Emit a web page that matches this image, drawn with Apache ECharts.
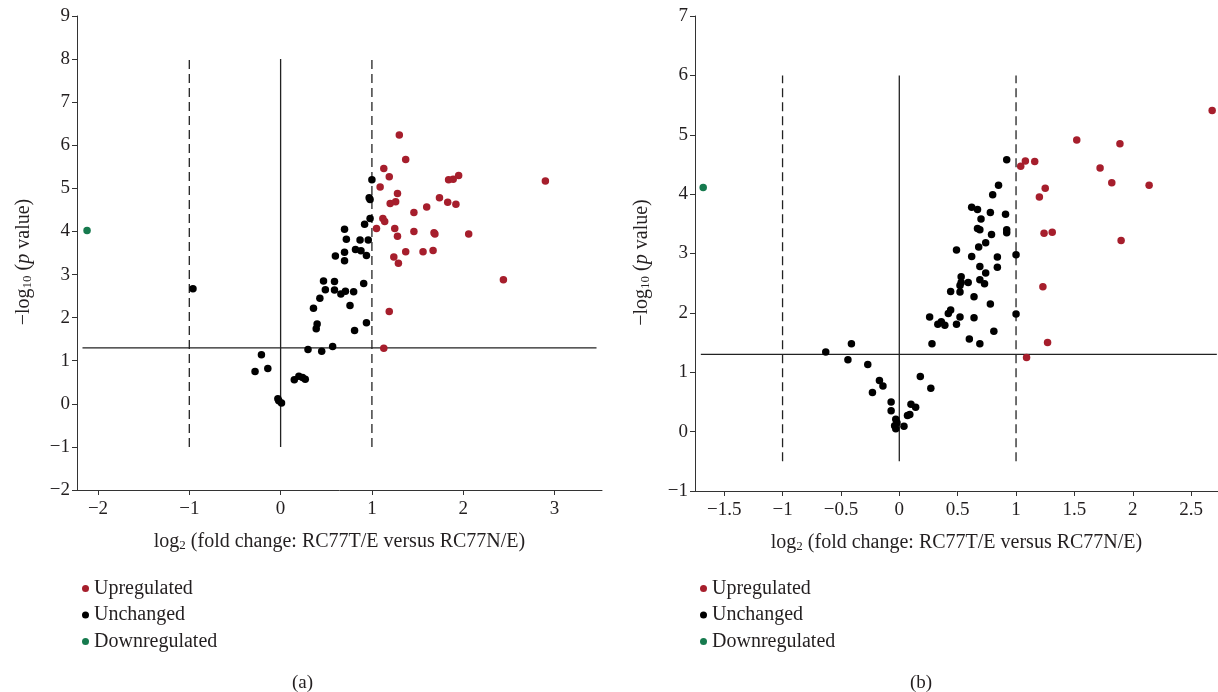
<!DOCTYPE html>
<html>
<head>
<meta charset="utf-8">
<script src="https://cdn.jsdelivr.net/npm/echarts@6/dist/echarts.min.js"></script>
<style>html,body{margin:0;padding:0;background:#fff}#c{width:1218px;height:692px}</style>
</head>
<body>
<div id="c"></div>
<script>
// ---------- Data ----------
const legendNames = ['Upregulated', 'Unchanged', 'Downregulated'];

const upA = [[1.30,6.24],[1.37,5.67],[1.13,5.46],[1.19,5.27],[1.09,5.03],[1.28,4.88],[1.20,4.65],[1.26,4.69],[1.12,4.30],[1.14,4.23],[1.05,4.07],[1.25,4.07],[1.28,3.89],[1.46,4.00],[1.68,3.97],[1.69,3.94],[2.06,3.94],[1.46,4.44],[1.60,4.57],[1.74,4.78],[1.83,4.68],[1.92,4.63],[1.84,5.20],[1.89,5.21],[1.95,5.30],[2.90,5.17],[1.24,3.41],[1.29,3.26],[1.37,3.53],[1.56,3.53],[1.67,3.56],[2.44,2.88],[1.19,2.14],[1.13,1.29]];
const unchA = [[1.00,5.20],[0.97,4.78],[0.98,4.74],[0.98,4.30],[0.92,4.17],[0.70,4.05],[0.72,3.82],[0.87,3.80],[0.96,3.80],[0.82,3.58],[0.88,3.55],[0.94,3.44],[0.70,3.52],[0.60,3.43],[0.70,3.32],[0.47,2.85],[0.59,2.84],[0.91,2.79],[0.49,2.65],[0.59,2.64],[0.66,2.55],[0.71,2.61],[0.80,2.60],[0.43,2.45],[0.76,2.28],[0.36,2.22],[0.40,1.85],[0.39,1.74],[0.81,1.70],[0.94,1.88],[0.30,1.26],[0.45,1.22],[0.57,1.33],[-0.21,1.14],[-0.28,0.75],[-0.14,0.82],[0.15,0.56],[0.20,0.64],[0.24,0.61],[0.27,0.57],[-0.03,0.12],[-0.02,0.07],[0.01,0.02],[-0.96,2.67]];
const downA = [[-2.12,4.02]];

const upB = [[1.04,4.47],[1.08,4.56],[1.16,4.55],[1.52,4.91],[1.89,4.85],[1.72,4.44],[1.82,4.19],[2.14,4.15],[1.25,4.10],[1.20,3.95],[1.24,3.34],[1.31,3.36],[1.90,3.22],[1.23,2.44],[1.27,1.50],[1.09,1.25],[2.68,5.41]];
const unchB = [[0.92,4.58],[0.85,4.15],[0.80,3.99],[0.62,3.78],[0.67,3.74],[0.78,3.69],[0.91,3.66],[0.70,3.58],[0.67,3.42],[0.69,3.40],[0.92,3.40],[0.92,3.35],[0.79,3.32],[0.74,3.18],[0.68,3.11],[0.49,3.06],[0.62,2.95],[0.84,2.94],[1.00,2.98],[0.69,2.78],[0.84,2.77],[0.74,2.67],[0.53,2.61],[0.53,2.51],[0.59,2.51],[0.69,2.56],[0.73,2.49],[0.52,2.46],[0.44,2.36],[0.52,2.35],[0.64,2.27],[0.78,2.15],[1.00,1.98],[0.44,2.05],[0.42,1.99],[0.26,1.93],[0.52,1.93],[0.64,1.92],[0.36,1.85],[0.33,1.81],[0.39,1.79],[0.49,1.81],[0.81,1.69],[0.60,1.56],[0.28,1.48],[0.69,1.48],[-0.41,1.48],[-0.63,1.34],[-0.44,1.21],[-0.27,1.13],[-0.17,0.86],[-0.14,0.77],[-0.23,0.66],[-0.07,0.50],[-0.07,0.35],[-0.03,0.21],[-0.04,0.10],[-0.03,0.05],[0.04,0.09],[0.07,0.27],[0.09,0.29],[0.10,0.46],[0.14,0.41],[0.18,0.93],[0.27,0.73],[-0.02,0.15]];
const downB = [[-1.68,4.11]];

// axis ranges and ticks
const xRangeA = [-2.23, 3.52], yRangeA = [-2, 9];
const xRangeB = [-1.75, 2.73], yRangeB = [-1, 7];
const xTicksA = [-2, -1, 0, 1, 2, 3];
const xTicksB = [-1.5, -1, -0.5, 0, 0.5, 1, 1.5, 2, 2.5];

// reference lines
const pThreshold = 1.3;
const fcLines = [-1, 0, 1];
const vLineSpanA = [-1, 8], vLineSpanB = [-0.5, 6];
const hLineSpanA = [-2.17, 3.46], hLineSpanB = [-1.70, 2.72];

// ---------- Styles ----------
const FONT = '"Liberation Serif", "DejaVu Serif", serif';
const TXT = '#231f20';
const AX = '#333';
const RED = '#a61e2c', BLACK = '#000', GREEN = '#167a4e';
const minus = v => String(v).replace('-', '\u2212');

const nameRich = {
  a: {fontFamily: FONT, fontSize: 20, color: TXT, lineHeight: 24, verticalAlign: 'bottom'},
  i: {fontFamily: FONT, fontSize: 20, color: TXT, fontStyle: 'italic', lineHeight: 24, verticalAlign: 'bottom'},
  s: {fontFamily: FONT, fontSize: 13, color: TXT, lineHeight: 17, verticalAlign: 'bottom'}
};
const xName = '{a|log}{s|2}{a| (fold change: RC77T/E versus RC77N/E)}';
const yName = '{a|\u2212log}{s|10}{a| (}{i|p}{a| value)}';

function xAxis(gi, range, ticks) {
  return {
    type: 'value', gridIndex: gi, min: range[0], max: range[1],
    splitLine: {show: false},
    axisLine: {show: true, onZero: false, lineStyle: {color: AX, width: 1}},
    axisTick: {show: true, length: 5, customValues: ticks, lineStyle: {color: AX, width: 1}},
    axisLabel: {customValues: ticks, formatter: minus, fontFamily: FONT, fontSize: 19, color: TXT, margin: 10},
    name: xName, nameLocation: 'middle', nameGap: 38,
    nameTextStyle: {rich: nameRich}
  };
}
function yAxis(gi, range) {
  return {
    type: 'value', gridIndex: gi, min: range[0], max: range[1], interval: 1,
    splitLine: {show: false},
    axisLine: {show: true, onZero: false, lineStyle: {color: AX, width: 1}},
    axisTick: {show: true, length: 5, lineStyle: {color: AX, width: 1}},
    axisLabel: {formatter: minus, fontFamily: FONT, fontSize: 19, color: TXT, margin: 7},
    name: yName, nameLocation: 'middle', nameGap: 43,
    nameTextStyle: {rich: nameRich, padding: [0, 18, 0, 0]}
  };
}
function dots(name, data, gi, color) {
  return {
    name, type: 'scatter', xAxisIndex: gi, yAxisIndex: gi, data,
    symbol: 'circle', symbolSize: 7.5, itemStyle: {color, opacity: 1}, z: 5, silent: true
  };
}
function seg(gi, pts, dashed) {
  return {
    type: 'line', xAxisIndex: gi, yAxisIndex: gi, data: pts, symbol: 'none', silent: true, z: 2,
    lineStyle: {color: '#222', width: 1.3, type: dashed ? [9, 5] : 'solid'}, animation: false
  };
}
function refLines(gi, vSpan, hSpan) {
  const out = [];
  fcLines.forEach(x => out.push(seg(gi, [[x, vSpan[0]], [x, vSpan[1]]], x !== 0)));
  out.push(seg(gi, [[hSpan[0], pThreshold], [hSpan[1], pThreshold]], false));
  return out;
}
function legend(left) {
  return {
    data: legendNames, orient: 'vertical', left, top: 573, icon: 'circle',
    itemWidth: 7, itemHeight: 7, itemGap: 5.5, selectedMode: false,
    textStyle: {fontFamily: FONT, fontSize: 20, color: TXT, lineHeight: 21}
  };
}

const chart = echarts.init(document.getElementById('c'), null, {renderer: 'canvas'});
chart.setOption({
  animation: false,
  backgroundColor: '#fff',
  grid: [
    {left: 77, top: 16, width: 525, height: 474},
    {left: 695, top: 16, width: 523, height: 475}
  ],
  xAxis: [xAxis(0, xRangeA, xTicksA), xAxis(1, xRangeB, xTicksB)],
  yAxis: [yAxis(0, yRangeA), yAxis(1, yRangeB)],
  legend: [legend(77), legend(695)],
  graphic: [
    {type: 'text', left: 292, top: 674, style: {text: '(a)', font: '19px ' + FONT, fill: TXT}},
    {type: 'text', left: 910, top: 674, style: {text: '(b)', font: '19px ' + FONT, fill: TXT}}
  ],
  series: [
    ...refLines(0, vLineSpanA, hLineSpanA),
    ...refLines(1, vLineSpanB, hLineSpanB),
    dots('Upregulated', upA, 0, RED),
    dots('Unchanged', unchA, 0, BLACK),
    dots('Downregulated', downA, 0, GREEN),
    dots('Upregulated', upB, 1, RED),
    dots('Unchanged', unchB, 1, BLACK),
    dots('Downregulated', downB, 1, GREEN)
  ]
});
</script>
</body>
</html>
